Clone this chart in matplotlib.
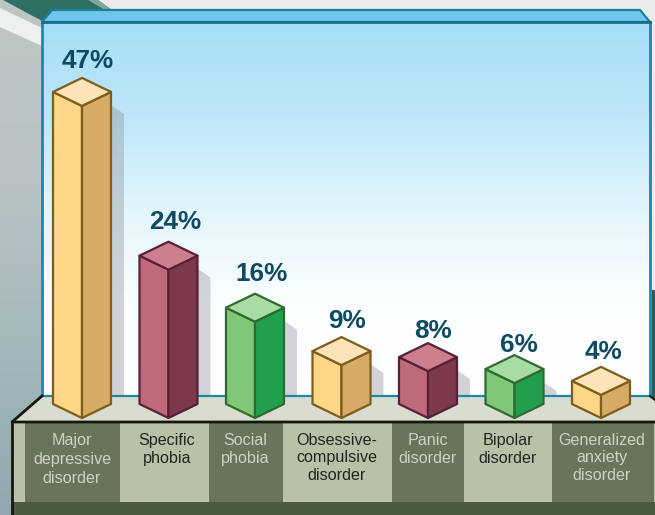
import numpy as np
import matplotlib
matplotlib.use("Agg")
import matplotlib.pyplot as plt
from matplotlib.patches import Polygon, Rectangle
from matplotlib.colors import LinearSegmentedColormap

categories = ["Major\ndepressive\ndisorder", "Specific\nphobia", "Social\nphobia",
              "Obsessive-\ncompulsive\ndisorder", "Panic\ndisorder", "Bipolar\ndisorder",
              "Generalized\nanxiety\ndisorder"]
percentages = [47, 24, 16, 9, 8, 6, 4]
bar_styles = ["amber", "rose", "green", "amber", "rose", "green", "amber"]

palette = {
    "amber": dict(left="#fdd688", right="#d5ab66", top="#fde4b8", edge="#7d5c1c"),
    "rose": dict(left="#bf6a7a", right="#7b3949", top="#cd7f8d", edge="#58203a"),
    "green": dict(left="#80c878", right="#229f4d", top="#a9dca2", edge="#2f6b30"),
}

W, H = 655, 515
FLOOR_PX = 418.0
fig = plt.figure(figsize=(W / 100, H / 100), dpi=100)

# Scenery layer, measured in canvas pixels
bg = fig.add_axes([0, 0, 1, 1], zorder=0)
bg.set_xlim(0, W)
bg.set_ylim(H, 0)
bg.axis("off")


def gradient(axes, extent, colors, z=0):
    cmap = LinearSegmentedColormap.from_list("g", colors)
    ramp = np.linspace(0, 1, 256)[:, None]
    axes.imshow(ramp, extent=extent, cmap=cmap, aspect="auto", zorder=z, origin="upper")
    axes.set_xlim(0, W)
    axes.set_ylim(H, 0)


def poly(axes, pts, fc, ec="none", lw=0, z=1, **kw):
    axes.add_patch(Polygon(pts, closed=True, fc=fc, ec=ec, lw=lw, zorder=z, **kw))


# Room behind the display case
bg.add_patch(Rectangle((0, 0), W, H, fc="#e9ecea", zorder=0))
gradient(bg, (0, 45, 515, 20), ["#c0c6c6", "#b8c2c4", "#a3b8bc", "#8fa9ae"], z=0.5)
poly(bg, [(0, 0), (10, 0), (42, 22), (42, 44), (0, 22)], "#bdc4c3", z=1)
poly(bg, [(0, 8), (42, 28), (42, 46), (0, 27)], "#eef0ef", z=1.1)
poly(bg, [(3, 0), (98, 0), (112, 10), (52, 10), (42, 21)], "#2f6f63", z=1.2)
poly(bg, [(88, 0), (98, 0), (112, 10), (105, 10)], "#7fa79c", z=1.3)
bg.add_patch(Rectangle((652, 290), 3, 110, fc="#2f5a5c", zorder=1))

# Glass case: gradient back wall, top band and border
gradient(bg, (42, 650, 396, 22), ["#a6def7", "#bde7f9", "#e3f5fc", "#fbfeff", "#ffffff"], z=2)
poly(bg, [(42, 22), (52, 10), (640, 10), (650, 22)], "#6fc6ea", ec="#1c7f9f", lw=1.6, z=2.2)
bg.plot([42, 42], [22, 396], color="#1c87a9", lw=2, zorder=2.3)
bg.plot([650, 650], [22, 396], color="#1c87a9", lw=2, zorder=2.3)
bg.plot([42, 650], [22, 22], color="#176f8c", lw=2, zorder=2.4)
bg.plot([42, 650], [396, 396], color="#1c87a9", lw=1.6, zorder=3.2)

# Floor and label plinth
poly(bg, [(42, 396), (650, 396), (655, 400), (655, 422), (12, 422)], "#d9ddd0", z=3)
bg.plot([42, 12, 655], [396, 422, 422], color="#15170f", lw=2, zorder=3.3)
bg.plot([650, 655], [396, 400], color="#15170f", lw=1.5, zorder=3.3)
bg.add_patch(Rectangle((12, 423), W - 12, 80, fc="#b9c2a9", zorder=3))
bg.add_patch(Rectangle((12, 502), W - 12, 13, fc="#4a5b40", zorder=3))
bg.plot([12, 12], [422, 515], color="#15170f", lw=2, zorder=3.3)

cell_edges = [25, 120, 209, 283, 392, 464, 552, 654]
label_centres = [72, 167, 245, 337, 428, 508, 602]
line_gaps = [1.35, 1.22, 1.22, 1.19, 1.22, 1.22, 1.19]
for i, (label, cx) in enumerate(zip(categories, label_centres)):
    dark = i % 2 == 0
    x0, x1 = cell_edges[i], cell_edges[i + 1]
    bg.add_patch(Rectangle((x0, 423), x1 - x0, 79,
                           fc="#68755c" if dark else "#b9c2a9", zorder=3.1))
    bg.text(cx, 433, label, ha="center", va="top", fontsize=11.6,
            family="Liberation Sans", linespacing=line_gaps[i],
            color="#ccd3c2" if dark else "#20261e", zorder=4)


# The bars rise on a slightly progressive percentage scale
A, B = 5.7, 0.020


def scale_forward(v):
    v = np.asarray(v, dtype=float)
    return A * v + B * v * np.abs(v)


def scale_inverse(h):
    h = np.asarray(h, dtype=float)
    return np.sign(h) * (-A + np.sqrt(A ** 2 + 4 * B * np.abs(h))) / (2 * B)


PX_PER_CAT, FIRST_PX = 86.5, 82.0
ax = fig.add_axes([0, 0, 1, 1], zorder=1)
ax.patch.set_alpha(0)
ax.axis("off")
ax.set_xlim(-FIRST_PX / PX_PER_CAT, (W - FIRST_PX) / PX_PER_CAT)
ax.set_yscale("function", functions=(scale_forward, scale_inverse))
ax.set_ylim(float(scale_inverse(FLOOR_PX - H)), float(scale_inverse(FLOOR_PX)))
fig.canvas.draw()


def to_px(cat, value):
    """Position on the category and percentage scales, in canvas pixels."""
    return bg.transData.inverted().transform(ax.transData.transform((cat, value)))


HALF_W, HALF_D = 29, 14
SHADOW_W, WALL_PX = 13, 396
value_dx = [6, 7, 7, 6, 5, 4, 3]
value_lift = [16.5, 19.5, 19.5, 16.5, 12.5, 10.5, 14.5]

for i, (pct, style) in enumerate(zip(percentages, bar_styles)):
    c = palette[style]
    x, y_top = to_px(i, pct)
    _, y_bot = to_px(i, 0)
    xl, xr = x - HALF_W, x + HALF_W

    # Cast shadow on the back wall
    s_hi, s_lo = y_top - 1, y_top + 8
    if s_lo < WALL_PX:
        poly(bg, [(xr, s_hi), (xr + SHADOW_W, s_lo), (xr + SHADOW_W, WALL_PX), (xr, WALL_PX)],
             "#8d8f98", z=2.5, alpha=0.38)

    kw = dict(ec=c["edge"], lw=1.6, joinstyle="round")
    poly(bg, [(xl, y_top - HALF_D), (x, y_top), (x, y_bot), (xl, y_bot - HALF_D)],
         c["left"], z=5, **kw)
    poly(bg, [(xr, y_top - HALF_D), (x, y_top), (x, y_bot), (xr, y_bot - HALF_D)],
         c["right"], z=5, **kw)
    poly(bg, [(xl, y_top - HALF_D), (x, y_top - 2 * HALF_D), (xr, y_top - HALF_D), (x, y_top)],
         c["top"], z=5.5, **kw)

    bg.text(x + value_dx[i], y_top - 2 * HALF_D - value_lift[i], f"{pct}%",
            ha="center", va="center", fontsize=18.8, fontweight="bold",
            family="Liberation Sans", color="#0f4a63", zorder=6)

fig.savefig("out.png", dpi=100)
